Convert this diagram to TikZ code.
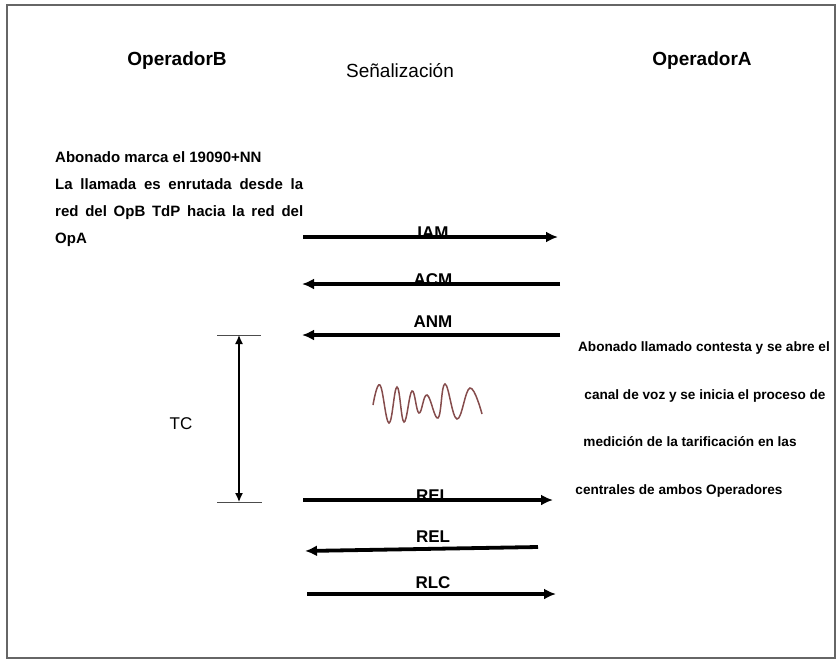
\documentclass[tikz,border=0pt]{standalone}
\usepackage{fontspec}
\setmainfont{Liberation Sans}
\usetikzlibrary{arrows.meta}
\definecolor{dbrown}{rgb}{0.52,0.30,0.30}
\definecolor{dframe}{gray}{0.4}

\begin{document}
\begin{tikzpicture}[x=1pt, y=-1pt,
  msg/.style={line width=3.8pt, -{Latex[length=12pt,width=11pt]}},
  msglbl/.style={font=\bfseries\fontsize{17}{19}\selectfont, inner sep=0pt, anchor=base},
  head/.style={font=\bfseries\fontsize{19}{22}\selectfont, inner sep=0pt, anchor=base},
  ltxt/.style={font=\bfseries\fontsize{15}{17}\selectfont, inner sep=0pt, anchor=base west},
  rtxt/.style={font=\bfseries\fontsize{13.6}{15}\selectfont, inner sep=0pt, anchor=base}]
\useasboundingbox (0,0) rectangle (840,664);
\draw[dframe, line width=2pt] (7,5) rectangle (835,658);
% encabezados
\node[head] (opB) at (177,65) {OperadorB};
\node[head, font=\fontsize{19}{22}\selectfont] (senal) at (400,77) {Señalización};
\node[head] (opA) at (702,65) {OperadorA};
% texto izquierdo
\node[ltxt] (ab1) at (55,162) {Abonado marca el 19090+NN};
\node[ltxt] (ab2) at (55,189) {\makebox[248pt][s]{La llamada es enrutada desde la}};
\node[ltxt] (ab3) at (55,216) {\makebox[248pt][s]{red del OpB TdP hacia la red del}};
\node[ltxt] (ab4) at (55,243) {OpA};
% mensajes
\coordinate (iamB) at (303,237); \coordinate (iamA) at (558,237);
\coordinate (acmA) at (560,284); \coordinate (acmB) at (302,284);
\coordinate (anmA) at (560,335); \coordinate (anmB) at (302,335);
\coordinate (relB) at (303,500); \coordinate (relA) at (553,500);
\coordinate (rel2A) at (538,547); \coordinate (rel2B) at (305,551);
\coordinate (rlcB) at (307,594); \coordinate (rlcA) at (556,594);
\draw[msg] (iamB) -- (iamA);
\draw[msg] (acmA) -- (acmB);
\draw[msg] (anmA) -- (anmB);
\draw[msg] (relB) -- (relA);
\draw[msg] (rel2A) -- (rel2B);
\draw[msg] (rlcB) -- (rlcA);
\node[msglbl] (iam) at (433,238) {IAM};
\node[msglbl] (acm) at (433,285) {ACM};
\node[msglbl] (anm) at (433,327) {ANM};
\node[msglbl] (rel) at (433,501) {REL};
\node[msglbl] (rel2) at (433,542) {REL};
\node[msglbl] (rlc) at (433,588) {RLC};
% TC
\coordinate (tcT) at (239,335); \coordinate (tcB) at (239,502);
\draw[black!70, line width=1pt] (217,335) -- (261,335);
\draw[black!70, line width=1pt] (217,502) -- (262,502);
\draw[line width=1.3pt, {Latex[length=9pt,width=8pt]}-{Latex[length=9pt,width=8pt]}] (tcT) -- (tcB);
\node[font=\fontsize{17}{20}\selectfont, inner sep=0pt] (tc) at (181,424) {TC};
% canal de voz
\draw[dbrown, line width=1.5pt] plot[smooth, tension=0.7] coordinates {(373,405) (380,385) (389,423) (397,387) (404,422) (412,391) (419,413) (427,395) (438,418) (445,384) (457,419) (470,388) (482,414)};
% texto derecho
\node[rtxt] (r1) at (704,351) {Abonado llamado contesta y se abre el};
\node[rtxt] (r2) at (705,399) {canal de voz y se inicia el proceso de};
\node[rtxt] (r3) at (690,446) {medición de la tarificación en las};
\node[rtxt] (r4) at (679,494) {centrales de ambos Operadores};
\end{tikzpicture}
\end{document}
